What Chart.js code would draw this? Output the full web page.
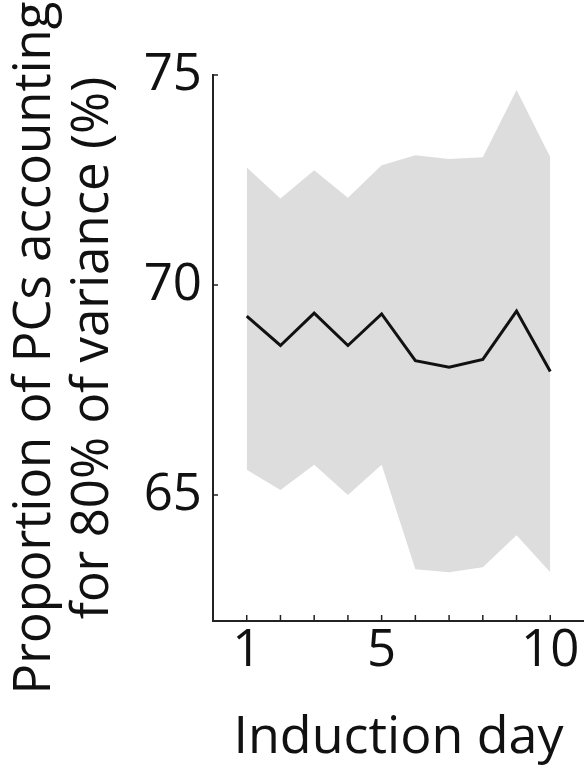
<!DOCTYPE html>
<html>
<head>
<meta charset="utf-8">
<script src="https://cdn.jsdelivr.net/npm/chart.js@4.4.1/dist/chart.umd.min.js"></script>
<style>
  html, body { margin: 0; padding: 0; background: #fff; overflow: hidden; }
  #chart { display: block; }
</style>
</head>
<body>
<canvas id="chart" width="584" height="769"></canvas>
<script>
// data
const days = [1, 2, 3, 4, 5, 6, 7, 8, 9, 10];
const dayLabels = [1, 5, 10];
const meanPct = [69.26, 68.56, 69.33, 68.56, 69.31, 68.2, 68.04, 68.23, 69.38, 67.94];
const upperPct = [72.8, 72.06, 72.73, 72.08, 72.85, 73.09, 73.0, 73.04, 74.64, 73.04];
const lowerPct = [65.6, 65.12, 65.72, 65.0, 65.72, 63.23, 63.16, 63.28, 64.04, 63.16];
const yTicks = [65, 70, 75];

const FONT = "'Open Sans', 'Noto Sans', sans-serif";

function pts(vals) {
    return days.map((d, i) => ({ x: d, y: vals[i] }));
}

// small inward tick marks, like the original plot
const inwardTicks = {
    id: 'inwardTicks',
    afterDraw(chart) {
        const ctx = chart.ctx;
        const xs = chart.scales.x, ys = chart.scales.y;
        const area = chart.chartArea;
        ctx.save();
        ctx.strokeStyle = '#222';
        ctx.lineWidth = 1.5;
        days.forEach((d) => {
            const px = xs.getPixelForValue(d);
            ctx.beginPath();
            ctx.moveTo(px, area.bottom);
            ctx.lineTo(px, area.bottom - 6);
            ctx.stroke();
        });
        yTicks.forEach((v) => {
            const py = ys.getPixelForValue(v);
            ctx.beginPath();
            ctx.moveTo(area.left, py);
            ctx.lineTo(area.left + 5, py);
            ctx.stroke();
        });
        ctx.restore();
    }
};

new Chart(document.getElementById('chart'), {
    type: 'line',
    data: {
        datasets: [
            {
                label: 'upper',
                data: pts(upperPct),
                borderWidth: 0,
                pointRadius: 0,
                backgroundColor: '#dddddd',
                fill: '+1'
            },
            {
                label: 'lower',
                data: pts(lowerPct),
                borderWidth: 0,
                pointRadius: 0,
                fill: false
            },
            {
                label: 'mean',
                data: pts(meanPct),
                borderColor: '#111',
                borderWidth: 3,
                pointRadius: 0,
                fill: false
            }
        ]
    },
    options: {
        responsive: false,
        animation: false,
        layout: { padding: { top: 75, right: 0, left: 0, bottom: 0 } },
        plugins: {
            legend: { display: false },
            tooltip: { enabled: false },
            filler: { drawTime: 'beforeDatasetsDraw' }
        },
        scales: {
            x: {
                type: 'linear',
                min: 0,
                max: 11,
                afterBuildTicks: (scale) => { scale.ticks = days.map(v => ({ value: v })); },
                afterFit: (scale) => { scale.height = 148; },
                grid: { display: true, drawOnChartArea: false, drawTicks: false },
                border: { color: '#222', width: 2 },
                ticks: {
                    autoSkip: false,
                    maxRotation: 0,
                    padding: 0,
                    color: '#111',
                    font: { family: FONT, size: 51 },
                    callback: (v) => dayLabels.includes(v) ? String(v) : ''
                },
                title: {
                    display: true,
                    text: 'Induction day',
                    color: '#111',
                    font: { family: FONT, size: 52 },
                    padding: { top: 0, bottom: 0 }
                }
            },
            y: {
                min: 62,
                max: 75,
                afterBuildTicks: (scale) => { scale.ticks = yTicks.map(v => ({ value: v })); },
                afterFit: (scale) => { scale.width = 213; },
                grid: { display: true, drawOnChartArea: false, drawTicks: false },
                border: { color: '#222', width: 2 },
                ticks: {
                    padding: 11,
                    color: '#111',
                    font: { family: FONT, size: 51 }
                },
                title: {
                    display: true,
                    text: ['Proportion of PCs accounting', 'for 80% of variance (%)'],
                    color: '#111',
                    font: { family: FONT, size: 51, lineHeight: 1.14 },
                    padding: { top: 6, bottom: 0 }
                }
            }
        }
    },
    plugins: [inwardTicks]
});
</script>
</body>
</html>
